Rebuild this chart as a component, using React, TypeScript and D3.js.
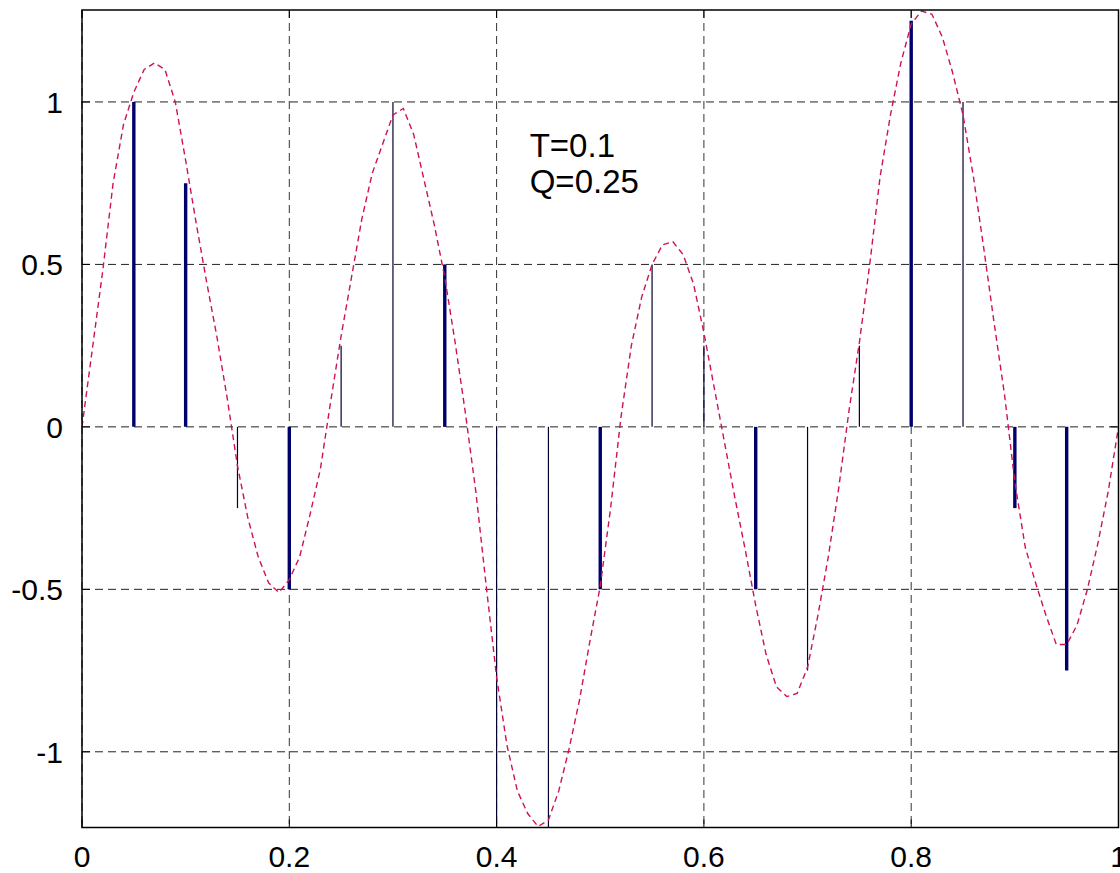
import React from 'react';
import * as d3 from 'd3';

// continuous signal, sampled every 0.01 from 0 to 1
const curveStep = 0.01;
const curveValues = [
  0, 0.24, 0.48, 0.75, 0.93, 1.03, 1.1, 1.12, 1.1, 1.0,
  0.82, 0.63, 0.45, 0.28, 0.09, -0.12, -0.28, -0.4, -0.48, -0.51,
  -0.47, -0.4, -0.27, -0.13, 0.08, 0.28, 0.46, 0.64, 0.78, 0.87,
  0.96, 0.98, 0.9, 0.76, 0.62, 0.46, 0.26, 0.04, -0.2, -0.49,
  -0.77, -0.98, -1.12, -1.19, -1.23, -1.21, -1.12, -0.99, -0.84, -0.66,
  -0.49, -0.25, 0.03, 0.25, 0.4, 0.5, 0.56, 0.57, 0.53, 0.44,
  0.29, 0.12, -0.05, -0.22, -0.38, -0.55, -0.7, -0.8, -0.83, -0.82,
  -0.74, -0.58, -0.4, -0.19, 0.05, 0.26, 0.5, 0.77, 0.96, 1.12,
  1.24, 1.28, 1.27, 1.2, 1.09, 0.96, 0.77, 0.55, 0.32, 0.1,
  -0.17, -0.37, -0.48, -0.58, -0.67, -0.67, -0.61, -0.5, -0.36, -0.2,
  0,
];

// quantized samples (Q = 0.25)
const thickX = [0.05, 0.1, 0.2, 0.35, 0.5, 0.65, 0.8, 0.9, 0.95];
const thickY = [1, 0.75, -0.5, 0.5, -0.5, -0.5, 1.25, -0.25, -0.75];
const thinX = [0.15, 0.25, 0.3, 0.4, 0.45, 0.55, 0.6, 0.7, 0.75, 0.85];
const thinY = [-0.25, 0.25, 1, -1.25, -1.25, 0.5, 0.25, -0.75, 0.25, 1];

const xTicks = [0, 0.2, 0.4, 0.6, 0.8, 1];
const yTicks = [-1, -0.5, 0, 0.5, 1];
const notes = ['T=0.1', 'Q=0.25'];

const W = 1120;
const H = 873;
const left = 82;
const right = 1118.5;
const top = 10;
const bottom = 827.5;

// plain hyphen for negatives, like the original
const fmt = (v: number) => String(v);

export default function App() {
  const x = d3.scaleLinear().domain([0, 1]).range([left, right]);
  const y = d3.scaleLinear().domain([-1.233, 1.283]).range([bottom, top]);

  const line = d3.line<number>()
    .x((d, i) => x(i * curveStep))
    .y(d => y(d));

  const font = 'Liberation Sans, Arial, Helvetica, sans-serif';
  const gridDash = '8,5';

  return (
    <svg width={W} height={H} style={{ position: 'absolute', left: 0, top: 0, background: '#fff' }}>
      <defs>
        <clipPath id="plot">
          <rect x={left} y={top} width={right - left} height={bottom - top} />
        </clipPath>
      </defs>
      <rect x={0} y={0} width={W} height={H} fill="#fff" />

      {/* grid */}
      {xTicks.map(t => (
        <line key={'gx' + t} x1={x(t)} x2={x(t)} y1={top} y2={bottom}
          stroke="#333" strokeWidth={1} strokeDasharray={gridDash} />
      ))}
      {yTicks.map(t => (
        <line key={'gy' + t} x1={left} x2={right} y1={y(t)} y2={y(t)}
          stroke="#222" strokeWidth={1} strokeDasharray={gridDash} />
      ))}

      <g clipPath="url(#plot)">
        {thinX.map((v, i) => (
          <line key={'tn' + i} x1={x(v)} x2={x(v)} y1={y(0)} y2={y(thinY[i])}
            stroke="#000033" strokeWidth={1.2} />
        ))}
        {thickX.map((v, i) => (
          <line key={'tk' + i} x1={x(v)} x2={x(v)} y1={y(0)} y2={y(thickY[i])}
            stroke="#00006a" strokeWidth={3.4} />
        ))}
        <path d={line(curveValues) || ''} fill="none" stroke="#d0105a"
          strokeWidth={1.4} strokeDasharray="6,4" />
      </g>

      {/* box and ticks */}
      <rect x={left} y={top} width={right - left} height={bottom - top}
        fill="none" stroke="#000" strokeWidth={1.5} />
      {xTicks.map(t => (
        <g key={'tx' + t}>
          <line x1={x(t)} x2={x(t)} y1={bottom} y2={bottom - 8} stroke="#000" />
          <line x1={x(t)} x2={x(t)} y1={top} y2={top + 8} stroke="#000" />
          <text x={x(t)} y={867} textAnchor="middle" fontFamily={font} fontSize={30}>{fmt(t)}</text>
        </g>
      ))}
      {yTicks.map(t => (
        <g key={'ty' + t}>
          <line x1={left} x2={left + 8} y1={y(t)} y2={y(t)} stroke="#000" />
          <line x1={right} x2={right - 8} y1={y(t)} y2={y(t)} stroke="#000" />
          <text x={63} y={y(t)} dy="0.36em" textAnchor="end" fontFamily={font} fontSize={30}>{fmt(t)}</text>
        </g>
      ))}

      {notes.map((n, i) => (
        <text key={n} x={x(0.43) + 2} y={y(0.83) + i * 36} fontFamily={font} fontSize={33}>{n}</text>
      ))}
    </svg>
  );
}
